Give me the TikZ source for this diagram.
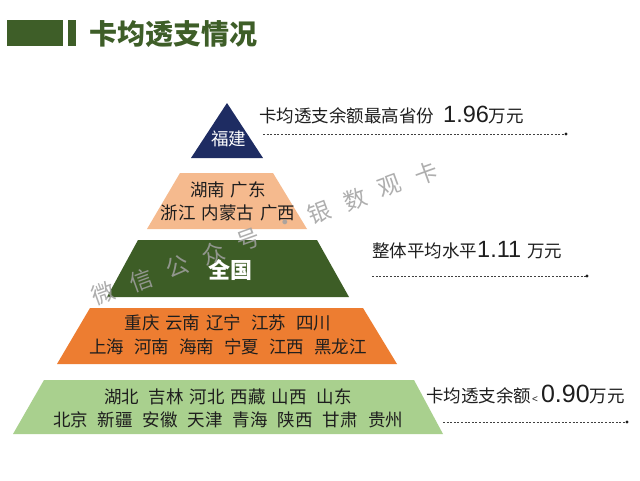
\documentclass[tikz,border=0pt]{standalone}
\usepackage{fontspec}
\setmainfont{Liberation Sans}
\newfontfamily\cjk{Noto Sans CJK SC}
\newfontfamily\arl{Liberation Sans}
\definecolor{titlegreen}{RGB}{62,94,40}
\definecolor{navy}{RGB}{30,44,98}
\definecolor{peach}{RGB}{245,186,142}
\definecolor{darkgreen}{RGB}{61,93,38}
\definecolor{orangetier}{RGB}{237,125,49}
\definecolor{lightgreen}{RGB}{169,208,142}
\definecolor{textdark}{RGB}{30,30,30}
\definecolor{wmgray}{RGB}{160,160,160}
\newcommand{\gs}{\hspace{6pt}}
\newcommand{\gm}{\hspace{10pt}}
\begin{document}
\begin{tikzpicture}[x=1pt,y=-1pt,
  tiertext/.style={font=\cjk\fontsize{17.5}{23.5}\selectfont, text=textdark, align=center, inner sep=0pt},
  wtext/.style={font=\cjk\fontsize{17.5}{23}\selectfont, text=white, align=center, inner sep=0pt},
  note/.style={font=\cjk\fontsize{17.5}{20}\selectfont, text=textdark, anchor=base west, inner sep=0pt},
  leader/.style={draw=textdark!85, line width=0.6pt, dash pattern=on 2pt off 1.6pt},
  enddot/.style={fill=textdark},
  wm/.style={font=\cjk\fontsize{23}{23}\selectfont, text=wmgray, opacity=0.85, rotate=20, inner sep=0pt}
]
\useasboundingbox (0,0) rectangle (640,480);
\fill[white] (0,0) rectangle (640,480);

% title
\fill[titlegreen] (7,20) rectangle (63,46);
\fill[titlegreen] (68,20) rectangle (76,46);
\node[font=\cjk\bfseries\fontsize{28}{28}\selectfont, text=titlegreen, anchor=west, inner sep=0pt] (title) at (89,34) {卡均透支情况};

% pyramid tiers
\fill[navy] (227,103) -- (263,158) -- (191,158) -- cycle;
\fill[peach] (180,173) -- (273,173) -- (307,229) -- (147,229) -- cycle;
\fill[darkgreen] (138,240) -- (317,240) -- (349,297) -- (107,297) -- cycle;
\fill[orangetier] (90,308) -- (363,308) -- (397,364) -- (57,364) -- cycle;
\fill[lightgreen] (44,380) -- (414,380) -- (443,434) -- (13,434) -- cycle;

\node[wtext] (fj) at (228.5,139) {福建};
\node[tiertext] (t2) at (228,201.5) {湖南\gs 广东\\浙江\gs 内蒙古\gs 广西};
\node[wtext, font=\cjk\bfseries\fontsize{22}{22}\selectfont] (qg) at (230.5,270) {全国};
\node[tiertext] (t4) at (228,335) {重庆\gs 云南\gs 辽宁\gm 江苏\gm 四川\\上海\gm 河南\gm 海南\gm 宁夏\gm 江西\gm 黑龙江};
\node[tiertext] (t5) at (228,408.5) {湖北\gm 吉林\gs 河北\gs 西藏\gs 山西\gm 山东\\北京\gm 新疆\gm 安徽\gm 天津\gm 青海\gm 陕西\gm 甘肃\gm 贵州};

% notes
\node[note] (n1) at (259,122) {卡均透支余额最高省份\hspace{9pt}{\arl\fontsize{23.5}{24}\selectfont 1.96}万元};
\node[note] (n2) at (372,257.5) {整体平均水平{\arl\fontsize{23.5}{24}\selectfont 1.11}\hspace{6pt}万元};
\node[note] (n3) at (426,402) {卡均透支余额{\arl\fontsize{10}{10}\selectfont\hspace{1pt}<\hspace{3pt}}{\arl\fontsize{25}{25}\selectfont 0.90}万元};

% leaders
\coordinate (d1s) at (263,134);
\coordinate (d1e) at (566,134);
\coordinate (d2s) at (372,276);
\coordinate (d2e) at (587,276);
\coordinate (d3s) at (443,422);
\coordinate (d3e) at (627,422);
\draw[leader] (d1s) -- (d1e);
\draw[leader] (d2s) -- (d2e);
\draw[leader] (d3s) -- (d3e);
\fill[enddot] (d1e) circle (1.7);
\fill[enddot] (d2e) circle (1.7);
\fill[enddot] (d3e) circle (1.7);

% watermark
\node[wm] (w1) at (103,293) {微};
\node[wm] (w2) at (141,280) {信};
\node[wm] (w3) at (177,266) {公};
\node[wm] (w4) at (213,253) {众};
\node[wm] (w5) at (248,240) {号};
\node[wm] (w6) at (286,225) {·};
\node[wm] (w7) at (319,212) {银};
\node[wm] (w8) at (355,199) {数};
\node[wm] (w9) at (390,186) {观};
\node[wm] (w10) at (426,173) {卡};
\end{tikzpicture}
\end{document}
